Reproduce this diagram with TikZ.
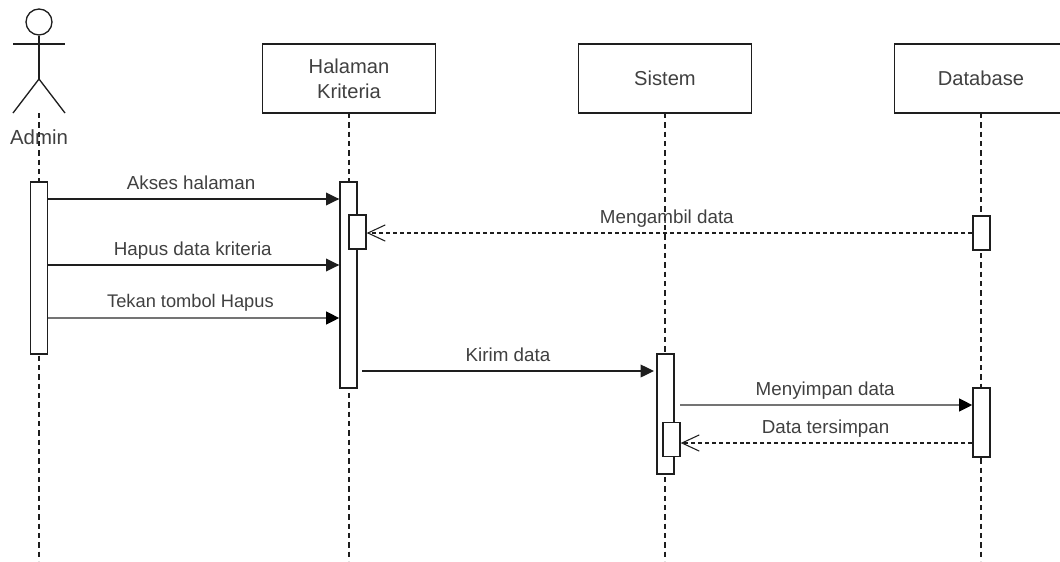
\documentclass[tikz,border=0pt]{standalone}
\usepackage{fontspec}
\setmainfont{Liberation Sans}
\usetikzlibrary{arrows.meta}
\definecolor{ink}{HTML}{1E1E1E}
\definecolor{txt}{HTML}{404040}
\tikzset{
  x=0.75pt,y=-0.75pt,
  line/.style={draw=ink,line width=1pt},
  head/.style={line,fill=white,text=txt,minimum width=129.75pt,minimum height=51.75pt,align=center,inner sep=0pt,font=\fontsize{15.1}{18.6}\selectfont},
  act/.style={line,fill=white,minimum width=12.75pt,inner sep=0pt},
  life/.style={draw=ink,line width=0.85pt,dash pattern=on 4pt off 3pt},
  msg/.style={line,-{Triangle[length=10pt,width=9.5pt]}},
  msggray/.style={draw=ink!62,line width=1.8pt,-{Triangle[length=10pt,width=9.5pt,color=black]}},
  reply/.style={line,dash pattern=on 3pt off 2.2pt,-{Straight Barb[length=13pt,width=13pt,line width=0.8pt,angle'=50]}},
  lbl/.style={text=txt,inner sep=0pt,font=\fontsize{14.1}{16}\selectfont}
}
\begin{document}
\begin{tikzpicture}
\useasboundingbox (0,0) rectangle (1060,561);
% lifeline ends
\coordinate (endA) at (39,561);
\coordinate (endH) at (349,561);
\coordinate (endS) at (665,561);
\coordinate (endD) at (981,561);
\coordinate (startA) at (39,113);
% lifelines
\draw[life] (startA) -- (endA);
\draw[life] (349,113) -- (endH);
\draw[life] (665,113) -- (endS);
\draw[life] (981,113) -- (endD);
% heads
\node[head] (hal) at (349,78.5) {Halaman\\Kriteria};
\node[head] (sis) at (665,78.5) {Sistem};
\node[head] (db) at (981,78.5) {Database};
% actor
\node[line,circle,minimum size=19.5pt,inner sep=0pt] (ahead) at (39,22) {};
\coordinate (aarmL) at (13,44);
\coordinate (aarmR) at (65,44);
\coordinate (ahip) at (39,79);
\coordinate (alegL) at (13,113);
\coordinate (alegR) at (65,113);
\draw[line] (ahead.south) -- (ahip);
\draw[line] (aarmL) -- (aarmR);
\draw[line] (alegL) -- (ahip) -- (alegR);
\node[text=txt,inner sep=0pt,font=\fontsize{15.3}{18}\selectfont] (aname) at (39,137) {Admin};
% activations
\node[act,minimum height=129pt] (aA) at (39,268) {};
\node[act,minimum height=154.5pt] (aH) at (348.5,285) {};
\node[act,minimum height=25.5pt] (aHi) at (357.5,232) {};
\node[act,minimum height=90pt] (aS) at (665.5,414) {};
\node[act,minimum height=25.5pt] (aSi) at (671.5,439.5) {};
\node[act,minimum height=25.5pt] (aD1) at (981.5,233) {};
\node[act,minimum height=51.75pt] (aD2) at (981.5,422.5) {};
% free ends
\coordinate (k1) at (362,371);
\coordinate (k2) at (654,371);
\coordinate (m1) at (680,405);
% messages
\draw[msg] (aA.east |- 0,199) -- node[lbl,above=6.5pt,xshift=-2.0pt] (t1) {Akses halaman} (aH.west |- 0,199);
\draw[msg] (aA.east |- 0,265) -- node[lbl,above=3.8pt,xshift=-0.7pt] (t2) {Hapus data kriteria} (aH.west |- 0,265);
\draw[msggray] (aA.east |- 0,318) -- node[lbl,above=3.8pt,xshift=-2.5pt,font=\fontsize{13.7}{16}\selectfont] (t3) {Tekan tombol Hapus} (aH.west |- 0,318);
\draw[reply] (aD1.west) -- node[lbl,above=3.8pt,xshift=-2pt] (t4) {Mengambil data} (aHi.east |- aD1.west);
\draw[msg] (k1) -- node[lbl,above=6.5pt] (t5) {Kirim data} (k2);
\draw[msggray] (m1) -- node[lbl,above=3.2pt,xshift=-0.7pt] (t6) {Menyimpan data} (aD2.west |- m1);
\draw[reply] (aD2.west |- 0,443) -- node[lbl,above=3.6pt,xshift=-0.7pt] (t7) {Data tersimpan} (aSi.east |- 0,443);
\end{tikzpicture}
\end{document}
